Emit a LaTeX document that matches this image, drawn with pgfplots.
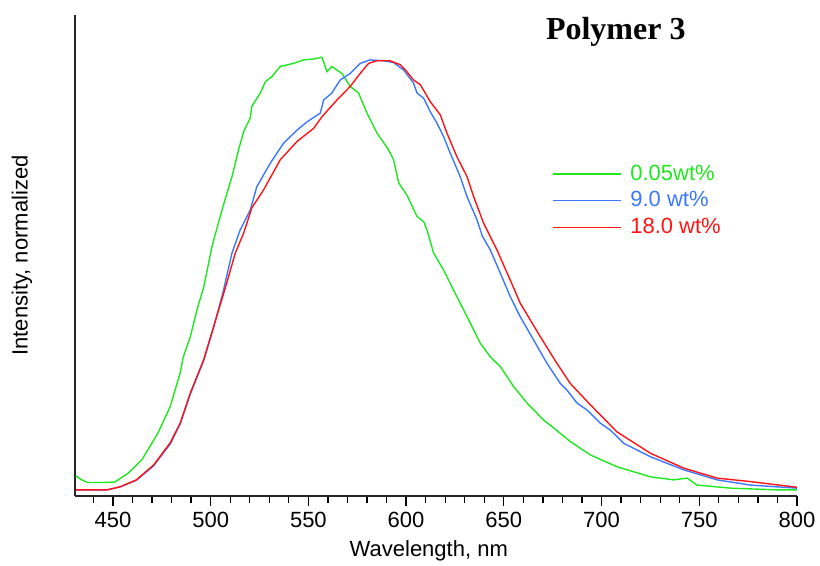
\documentclass[border=0pt]{standalone}
\usepackage{fontspec}
\setmainfont{Liberation Sans}
\newfontfamily\serifb{Liberation Serif}
\usepackage{pgfplots}
\pgfplotsset{compat=1.18}
\definecolor{cgreen}{RGB}{30,232,30}
\definecolor{cblue}{RGB}{60,120,255}
\definecolor{cred}{RGB}{255,20,20}
\begin{document}
\begin{tikzpicture}[x=1pt,y=1pt]
\useasboundingbox (0,0) rectangle (410,283);
\begin{axis}[
 at={(37.5pt,35pt)}, anchor=south west, scale only axis, width=361pt, height=240.5pt,
 xmin=430.6, xmax=800, ymin=0, ymax=1.103,
 axis x line*=bottom, axis y line*=left,
 axis line style={-, line width=0.75pt, black!85},
 xtick={450,500,...,800}, minor xtick={440,450,...,800}, ytick=\empty,
 tick align=outside, major tick length=5pt, minor tick length=3.3pt,
 every tick/.style={black, line width=0.6pt},
 tick label style={font=\fontsize{11}{13}\selectfont},
 /pgf/number format/assume math mode=true,
 xticklabel style={yshift=0.5pt},
 xlabel={Wavelength, nm}, ylabel={Intensity, normalized},
 label style={font=\fontsize{11}{13}\selectfont},
 xlabel style={at={(axis description cs:0.49,-0.115)}, anchor=center},
 ylabel style={at={(axis description cs:-0.0734,0.5)}, anchor=center},
 legend style={at={(axis description cs:0.66,0.698)}, anchor=north west, draw=none, fill=none,
   font=\fontsize{11}{13}\selectfont, row sep=0.3pt, inner sep=0pt,
   nodes={inner xsep=4.5pt}},
 legend cell align=left,
 legend image code/.code={\draw[#1, line width=0.7pt] (0pt,0pt) -- (34pt,0pt);},
 every axis plot/.append style={line width=0.7pt},
 clip=false,
]
\addplot[cgreen] coordinates {
(431,0.046)(434,0.037)(437,0.031)(445,0.031)(451,0.032)(458,0.053)(464.8,0.083)(473,0.144)
(479.3,0.205)(484.4,0.282)(486,0.319)(489.6,0.365)(493,0.427)(496.4,0.478)(500.7,0.572)
(505.8,0.656)(510.9,0.732)(514.3,0.794)(516.9,0.836)(520.3,0.867)(521,0.893)(525.4,0.924)
(528,0.950)(531.4,0.962)(535.6,0.985)(542.4,0.992)(547.5,1.000)(552.7,1.002)(557,1.006)
(559.5,0.973)(562,0.985)(567.2,0.969)(571.4,0.939)(575.7,0.924)(580,0.878)(585,0.833)
(591,0.794)(593.6,0.771)(596.2,0.718)(600.4,0.690)(605.6,0.641)(609,0.629)(610.7,0.610)
(614.1,0.557)(619.2,0.518)(624.3,0.472)(629.4,0.427)(632.9,0.396)(638,0.350)(643.1,0.319)
(648.2,0.297)(655,0.251)(661.9,0.213)(670.4,0.174)(675.5,0.156)(684,0.125)(694.3,0.094)
(707.9,0.067)(725,0.044)(736.9,0.037)(743.8,0.041)(748.9,0.025)(766,0.018)(789.8,0.014)(800,0.014)
};
\addlegendentry{\textcolor{cgreen}{0.05wt\%}}
\addplot[cblue] coordinates {
(431,0.014)(447,0.014)(453.7,0.021)(462,0.036)(470.8,0.069)(479.3,0.119)(484.4,0.165)
(489.6,0.234)(496.4,0.310)(501.5,0.386)(506.6,0.472)(510.9,0.557)(515.1,0.610)(520.3,0.656)
(523.6,0.709)(530.5,0.763)(537.3,0.809)(544.2,0.839)(549.3,0.858)(556.1,0.878)(557.8,0.908)
(562,0.924)(566.3,0.954)(571.4,0.969)(576.5,0.992)(581.6,1.000)(588.5,0.998)(593.6,0.994)
(598.7,0.977)(603.8,0.947)(605.6,0.924)(609,0.912)(612.4,0.881)(615.8,0.855)(619.2,0.824)
(622.6,0.786)(627.7,0.732)(631.2,0.686)(636.3,0.633)(639,0.596)(643.1,0.564)(648.2,0.511)
(653.3,0.457)(658.4,0.411)(665.2,0.358)(672.1,0.304)(678.9,0.258)(682.3,0.243)(687.5,0.213)
(692.6,0.197)(699.4,0.167)(704.5,0.151)(711.3,0.121)(725,0.090)(742,0.060)(759.1,0.037)
(776.2,0.025)(800,0.018)
};
\addlegendentry{\textcolor{cblue}{9.0 wt\%}}
\addplot[cred] coordinates {
(431,0.014)(447,0.014)(453.7,0.021)(462,0.037)(470.8,0.071)(479.3,0.122)(484.4,0.167)
(489.6,0.236)(496.4,0.312)(501.5,0.388)(507.5,0.477)(512.6,0.557)(516.9,0.603)(521.1,0.661)
(527.1,0.702)(535.6,0.771)(544.2,0.813)(552.7,0.843)(557,0.870)(564.6,0.908)(571.4,0.939)
(576.5,0.969)(580.8,0.992)(585,0.998)(591.9,0.998)(597,0.989)(600.4,0.973)(603.8,0.954)
(607.3,0.943)(612.4,0.904)(617.5,0.874)(620.9,0.832)(626,0.778)(631.2,0.732)(634.6,0.686)
(639.7,0.625)(641.4,0.610)(646.5,0.564)(653.3,0.495)(658.4,0.442)(668.7,0.365)(677.2,0.304)
(684,0.258)(694.3,0.209)(707.9,0.147)(725,0.098)(742,0.064)(759.1,0.041)(776.2,0.033)(800,0.020)
};
\addlegendentry{\textcolor{cred}{18.0 wt\%}}
\node[font=\serifb\bfseries\fontsize{16}{18}\selectfont] at (axis description cs:0.749,0.965) {Polymer 3};
\end{axis}
\end{tikzpicture}
\end{document}
